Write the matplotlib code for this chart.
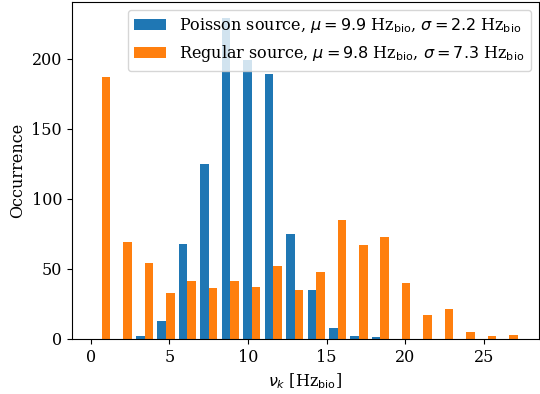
import numpy as np
import matplotlib
matplotlib.use('Agg')
import matplotlib.pyplot as plt

plt.rcParams['font.family'] = 'DejaVu Serif'
plt.rcParams['font.size'] = 11.5

# histogram bin edges (20 bins) and counts
bin_edges = np.linspace(0.0, 27.3, 21)
poisson_counts = [0, 0, 2, 13, 68, 125, 229, 199, 189, 75,
                  35, 8, 2, 1, 0, 0, 0, 0, 0, 0]
regular_counts = [187, 69, 54, 33, 41, 36, 41, 37, 52, 35,
                  48, 85, 67, 73, 40, 17, 21, 5, 2, 3]

labels = [
    r'Poisson source, $\mu = 9.9$ Hz$_{\rm bio}$, $\sigma = 2.2$ Hz$_{\rm bio}$',
    r'Regular source, $\mu = 9.8$ Hz$_{\rm bio}$, $\sigma = 7.3$ Hz$_{\rm bio}$',
]

centers = 0.5 * (bin_edges[:-1] + bin_edges[1:])

fig, ax = plt.subplots(figsize=(5.4, 3.94), dpi=100)
ax.hist([centers, centers], bins=bin_edges,
        weights=[poisson_counts, regular_counts],
        color=['#1f77b4', '#ff7f0e'], label=labels)

ax.set_xlabel(r'$\nu_k$ [Hz$_{\rm bio}$]')
ax.set_ylabel('Occurrence')
ax.legend(loc='upper right')

plt.subplots_adjust(left=0.133, right=0.998, top=0.995, bottom=0.14)
plt.savefig('out.png', dpi=100)
